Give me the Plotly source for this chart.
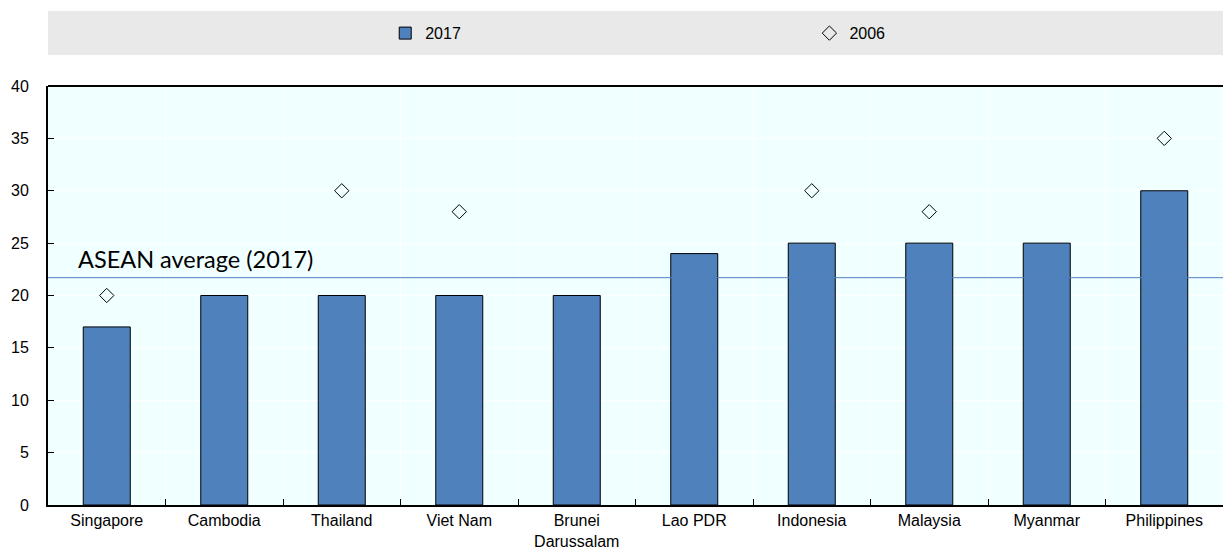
import plotly.graph_objects as go

countries = ["Singapore", "Cambodia", "Thailand", "Viet Nam", "Brunei<br>Darussalam",
             "Lao PDR", "Indonesia", "Malaysia", "Myanmar", "Philippines"]
v2017 = [17, 20, 20, 20, 20, 24, 25, 25, 25, 30]
countries_2006 = ["Singapore", "Thailand", "Viet Nam", "Indonesia", "Malaysia", "Philippines"]
v2006 = [20, 30, 28, 30, 28, 35]
asean_avg_2017 = 21.7

TICK_FONT = dict(family="Liberation Sans, Arial, sans-serif", size=16, color="#000000")

fig = go.Figure()
fig.add_trace(go.Bar(
    x=countries, y=v2017, name="2017", width=0.4,
    marker=dict(color="#4F81BD", line=dict(color="#000000", width=1)),
    legend="legend",
))
fig.add_trace(go.Scatter(
    x=countries_2006, y=v2006, name="2006", mode="markers",
    marker=dict(symbol="diamond-open", size=11, color="#000000", line=dict(color="#000000", width=1)),
    legend="legend2",
))

# legend background band
fig.add_shape(type="rect", xref="paper", yref="paper", x0=0, x1=1, y0=1.074, y1=1.179,
              fillcolor="#E9E9E9", line=dict(width=0), layer="below")
# top border
fig.add_shape(type="line", xref="paper", yref="paper", x0=0, x1=1, y0=1, y1=1,
              line=dict(color="#000000", width=2))
# ASEAN average line
fig.add_shape(type="line", xref="paper", yref="y", x0=0, x1=1, y0=asean_avg_2017, y1=asean_avg_2017,
              line=dict(color="#4F81BD", width=1))
fig.add_annotation(xref="paper", yref="y", x=0.0238, y=asean_avg_2017 + 1.8,
                   text="ASEAN average (2017)", showarrow=False, xanchor="left", yanchor="middle",
                   font=dict(family="Lato, Open Sans, sans-serif", size=23.5, color="#000000"))

fig.update_layout(
    width=1223, height=552,
    margin=dict(l=48, r=0, t=86, b=47),
    paper_bgcolor="#FFFFFF",
    plot_bgcolor="#F0FFFF",
    showlegend=True,
    legend=dict(orientation="h", x=0.287, y=1.126, xanchor="left", yanchor="middle",
                bgcolor="rgba(0,0,0,0)", font=TICK_FONT, itemwidth=30),
    legend2=dict(orientation="h", x=0.648, y=1.126, xanchor="left", yanchor="middle",
                 bgcolor="rgba(0,0,0,0)", font=TICK_FONT, itemwidth=30),
    bargap=0.6,
)
fig.update_xaxes(
    tickson="boundaries", ticks="inside", ticklen=6, tickcolor="#000000", tickwidth=1,
    showgrid=True, gridcolor="#FFFFFF", gridwidth=1,
    showline=True, linecolor="#000000", linewidth=2,
    tickfont=TICK_FONT, range=[-0.5, 9.5],
)
fig.update_yaxes(
    range=[0, 40], dtick=5, ticks="inside", ticklen=6, tickcolor="#000000", tickwidth=1,
    showgrid=True, gridcolor="#FFFFFF", gridwidth=1, zeroline=False,
    showline=True, linecolor="#000000", linewidth=2,
    tickfont=TICK_FONT, ticklabelstandoff=14,
)

fig.write_html("out.html")
